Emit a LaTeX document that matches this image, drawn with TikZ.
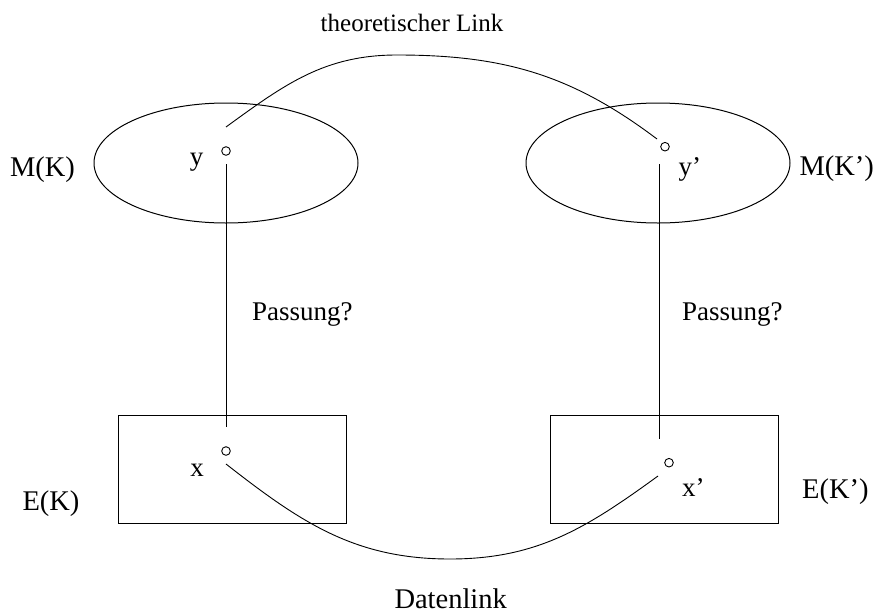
\documentclass[tikz,border=0pt]{standalone}
\usepackage{fontspec}
\setmainfont{Liberation Serif}
\begin{document}
\begin{tikzpicture}[x=1pt,y=-1pt,line width=1pt,
  lbl/.style={inner sep=0pt,anchor=base,font=\fontsize{27}{32}\selectfont},
  lblw/.style={lbl,anchor=base west},
  big/.style={font=\fontsize{28.5}{33}\selectfont},
  pt/.style={circle,draw,inner sep=0pt,minimum size=8.6pt,line width=0.9pt},
  conn/.style={draw,line width=0.9pt}]
\useasboundingbox (0,0) rectangle (875,613);

% model sets and empirical sets
\draw (226,163) ellipse [x radius=132, y radius=60];
\draw (658,163) ellipse [x radius=132, y radius=60];
\draw (118,415) rectangle (346,523);
\draw (550,415) rectangle (778,523);

% points
\node[pt] (y)  at (226,151) {};
\node[pt] (yp) at (665,146.7) {};
\node[pt] (x)  at (226,451) {};
\node[pt] (xp) at (669,462.7) {};

% connector end points
\coordinate (yl) at (226,164);
\coordinate (xl) at (226,427);
\coordinate (ypl) at (659,164);
\coordinate (xpl) at (659,439);
\coordinate (tA) at (226,127);
\coordinate (tTop) at (397,55);
\coordinate (tB) at (657,139);
\coordinate (dA) at (226,464);
\coordinate (dBot) at (450,559);
\coordinate (dB) at (658,476);

% connectors
\path[conn] (yl) -- (xl);
\path[conn] (ypl) -- (xpl);
\path[conn] (tA) to[out=36,in=180] (tTop) to[out=0,in=143] (tB);
\path[conn] (dA) to[out=-38,in=180] (dBot) to[out=0,in=216] (dB);

% labels
\node[lbl,font=\fontsize{25}{30}\selectfont] (tl) at (412,31.7) {theoretischer Link};
\node[lbl,big] (mk) at (42.5,176) {M(K)};
\node[lblw,big] (mkp) at (799,175) {M(K')};
\node[lbl] (ly) at (196.7,165) {y};
\node[lblw] (lyp) at (678,175) {y'};
\node[lblw] (p1) at (251.7,320) {Passung?};
\node[lblw] (p2) at (681.7,320) {Passung?};
\node[lbl] (lx) at (197,476) {x};
\node[lblw] (lxp) at (681.7,496.7) {x'};
\node[lbl,big] (ek) at (51,510) {E(K)};
\node[lblw,big] (ekp) at (801.7,498) {E(K')};
\node[lbl,big] (dl) at (450.7,608) {Datenlink};
\end{tikzpicture}
\end{document}
